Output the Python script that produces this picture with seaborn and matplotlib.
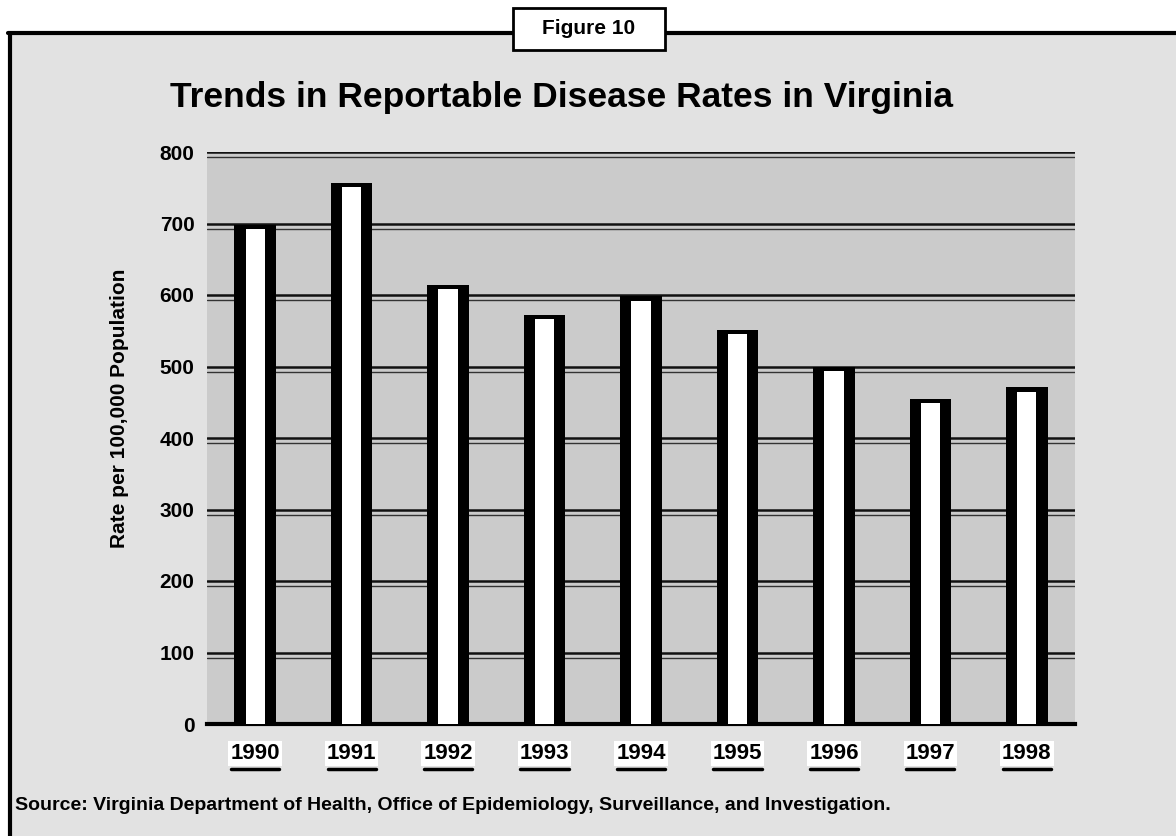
import matplotlib
matplotlib.use("Agg")
import matplotlib.pyplot as plt
import matplotlib.transforms as mtransforms
from matplotlib import font_manager
from matplotlib.lines import Line2D
from matplotlib.patches import Rectangle
import pandas as pd
import seaborn as sns

# Reportable disease rates per 100,000 population, Virginia
years = ["1990", "1991", "1992", "1993", "1994", "1995", "1996", "1997", "1998"]
rates = [698, 757, 614, 572, 598, 551, 500, 455, 471]
y_ticks = [0, 100, 200, 300, 400, 500, 600, 700, 800]

title = "Trends in Reportable Disease Rates in Virginia"
fig_label = "Figure 10"
y_label = "Rate per 100,000 Population"
source = ("Source: Virginia Department of Health, Office of Epidemiology, "
          "Surveillance, and Investigation.")

sns.set_theme(style="white")
installed = {f.name for f in font_manager.fontManager.ttflist}
narrow = "Liberation Sans Narrow" if "Liberation Sans Narrow" in installed else "Liberation Sans"
plt.rcParams["font.family"] = ["Liberation Sans", "DejaVu Sans"]
plt.rcParams["text.color"] = "black"
plt.rcParams["xtick.color"] = "black"
plt.rcParams["ytick.color"] = "black"
plt.rcParams["axes.labelcolor"] = "black"

W, H = 1176, 836


def fx(px):
    return px / W


def fy(py):
    return 1 - py / H


fig = plt.figure(figsize=(W / 100, H / 100), dpi=100, facecolor="white")

# shaded panel inside the page frame
fig.patches.append(Rectangle((fx(9), 0), 1 - fx(9), fy(33), transform=fig.transFigure,
                             facecolor="#e2e2e2", edgecolor="none", zorder=-2))
# frame lines with a gap for the figure tag
for xs, ys in [([fx(9.5), fx(9.5)], [0, fy(33)]),
               ([fx(8), fx(513)], [fy(33), fy(33)]),
               ([fx(665), 1.0], [fy(33), fy(33)])]:
    fig.add_artist(Line2D(xs, ys, color="black", lw=3, transform=fig.transFigure))

fig.patches.append(Rectangle((fx(513), fy(50)), fx(665) - fx(513), fy(8) - fy(50),
                             transform=fig.transFigure, facecolor="white",
                             edgecolor="black", lw=2, zorder=2))
fig.text(fx(589), fy(29), fig_label, ha="center", va="center", fontsize=15,
         fontweight="bold", zorder=3)

fig.text(fx(561), fy(97), title, ha="center", va="center", fontsize=25.5,
         fontweight="bold")

fig.text(fx(15), fy(805), source, ha="left", va="center", fontsize=14,
         fontweight="bold")

ax = fig.add_axes([fx(207), fy(724), fx(1075) - fx(207), fy(152) - fy(724)])
ax.set_facecolor("#cbcbcb")

df = pd.DataFrame({"year": years, "rate": rates})
df["core"] = df["rate"] - 6

# dark bar body with a light core to give a cylinder look
sns.barplot(data=df, x="year", y="rate", color="black", saturation=1, width=0.43,
            linewidth=0, edgecolor="none", ax=ax, zorder=3)
sns.barplot(data=df, x="year", y="core", color="white", saturation=1, width=0.2,
            linewidth=0, edgecolor="none", ax=ax, zorder=4)

for v in y_ticks[1:]:
    ax.axhline(v, color="#111111", lw=1.8, zorder=1)
    ax.axhline(v - 7, color="#333333", lw=1.0, zorder=1)

ax.set_ylim(0, 800)
ax.set_xlim(-0.5, len(years) - 0.5)
ax.set_yticks(y_ticks)
ax.set_yticklabels([str(t) for t in y_ticks], fontsize=15, fontweight="bold",
                   family=narrow)
ax.set_xticks(range(len(years)))
ax.set_xticklabels(years, fontsize=16, fontweight="bold", family=narrow)
for lab in ax.get_xticklabels():
    lab.set_bbox(dict(facecolor="white", edgecolor="none", pad=1.5))
ax.tick_params(axis="x", length=0, pad=14)
ax.tick_params(axis="y", length=0, pad=9)

for side in ["top", "right", "left"]:
    ax.spines[side].set_visible(False)
ax.spines["bottom"].set_color("black")
ax.spines["bottom"].set_linewidth(3)

# underline beneath each year label
blend = mtransforms.blended_transform_factory(ax.transData, ax.transAxes)
for i in range(len(years)):
    ax.plot([i - 0.25, i + 0.25], [-0.078, -0.078], color="black", lw=2.5,
            transform=blend, clip_on=False)

ax.set_xlabel("")
ax.set_ylabel(y_label, fontsize=15, fontweight="bold", family=narrow)
ax.yaxis.set_label_coords(-0.09, 0.552)

fig.savefig("out.png", dpi=100, facecolor=fig.get_facecolor())
